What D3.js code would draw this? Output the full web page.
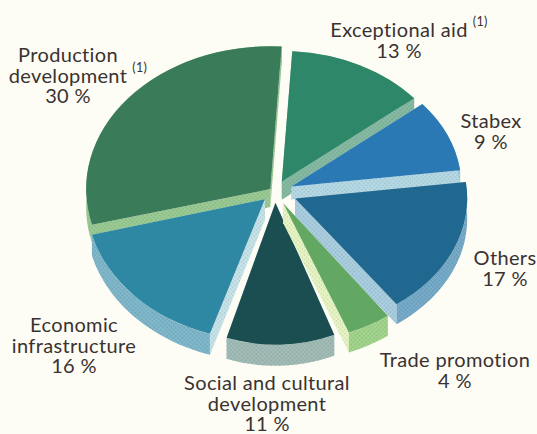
<!DOCTYPE html>
<html>
<head>
<meta charset="utf-8">
<script src="https://cdn.jsdelivr.net/npm/d3@7/dist/d3.min.js"></script>
<style>
html,body{margin:0;padding:0;background:#fdfdf5;overflow:hidden}
text{font-family:Lato,"Noto Sans",sans-serif;fill:#3a3230}
</style>
</head>
<body>
<script>
// Shares of the aid budget, clockwise from the left of the pie
const categories = ["Production development","Exceptional aid","Stabex","Others","Trade promotion","Social and cultural development","Economic infrastructure"];
const shares = [30,13,9,17,4,11,16];

// How each sector is pulled out, sized and extruded
const explodeBy = [6,15,18,22,17,14,14];
const radii = [188,172,170,172,183,187,186];
const widthScale = [0.98,1,1,1,0.97,0.85,0.96];
const depths = [18,18,13,20,20,21,21];

// Sector colours: top face, cut faces, rim
const faceColors = ["#3a7b59","#2f876a","#2a79b4","#20688f","#62a862","#1a4e50","#2e88a4"];
const cutColors = ["#9bcb94","#86bba3","#b5dae6","#aacfe1","#e8f5c4","#c6e4ea","#c6e4ea"];
const rimColors = ["#9bcb94","#86bba3","#9ccde0","#76abc9","#a3d58d","#a2bdb7","#80b8cb"];

// Wrapped label lines and the sectors whose label carries a footnote mark
const labelLines = [
  ["Production","development"],["Exceptional aid"],["Stabex"],["Others"],
  ["Trade promotion"],["Social and cultural","development"],["Economic","infrastructure"]
];
const footnoted = [1,1,0,0,0,0,0];
const labelAnchors = [[68,62],[399,37],[491,128],[505,265],[455,367],[267,390],[74,332]];

const W = 537, H = 434, centre = [275,192], tilt = 0.76, lineStep = 20.5;
const startDeg = 255.5;

const svg = d3.select("body").append("svg").attr("width",W).attr("height",H).style("display","block");
svg.append("rect").attr("width",W).attr("height",H).attr("fill","#fdfdf5");

// A halftone-style screen for the extruded walls
const defs = svg.append("defs");
function screen(id, base){
  const p = defs.append("pattern").attr("id",id).attr("width",3).attr("height",3)
    .attr("patternUnits","userSpaceOnUse").attr("patternTransform","rotate(45)");
  p.append("rect").attr("width",3).attr("height",3).attr("fill",base);
  p.append("rect").attr("width",1.3).attr("height",1.3)
    .attr("fill",d3.color(base).darker(0.45).formatHex());
  return `url(#${id})`;
}

const toRad = Math.PI/180;
const pie = d3.pie().sort(null)
  .startAngle(startDeg*toRad).endAngle((startDeg+360)*toRad);
const arcs = pie(shares).map((a,i)=>({...a,i}));
const line = d3.line();

function sectorLayout(a){
  const mid = (a.startAngle+a.endAngle)/2;
  const [ox,oy] = d3.pointRadial(mid, explodeBy[a.i]);
  return {x:centre[0]+ox, y:centre[1]+oy*tilt, r:radii[a.i], sx:widthScale[a.i], depth:depths[a.i]};
}
// Walls are painted back to front, so nearer sectors overlap the ones behind
const paintOrder = [0,1,2,3,6,5,4];
paintOrder.forEach(i=>{
  const a = arcs[i], s = sectorLayout(a);
  const g = svg.append("g").attr("class","sector").attr("transform",`translate(${s.x},${s.y})`);
  const pt = (ang,dy=0)=>{const [x,y]=d3.pointRadial(ang,s.r); return [x*s.sx,y*tilt+dy];};
  const cutFill = screen("cut"+i,cutColors[i]), rimFill = screen("rim"+i,rimColors[i]);
  [a.startAngle,a.endAngle].forEach(ang=>{
    g.append("path").attr("fill",cutFill)
      .attr("d",line([[0,0],pt(ang),pt(ang,s.depth),[0,s.depth]])+"Z");
  });
  const steps = d3.range(0,41).map(t=>a.startAngle+(a.endAngle-a.startAngle)*t/40);
  const rimPts = steps.map(t=>pt(t)).concat(steps.slice().reverse().map(t=>pt(t,s.depth)));
  g.append("path").attr("fill",rimFill).attr("d",line(rimPts)+"Z");
  g.append("path").attr("fill",faceColors[i])
    .attr("transform",`scale(${s.sx},${tilt})`)
    .attr("d",d3.arc().innerRadius(0).outerRadius(s.r)(a));
});

// Labels: wrapped name, then the share; footnote marks sit after the name's last line
const labels = svg.append("g").attr("font-size",20).style("letter-spacing","0.35px");
categories.forEach((c,i)=>{
  const [x,y] = labelAnchors[i];
  const rows = labelLines[i].concat([shares[i]+" %"]);
  rows.forEach((row,j)=>{
    const rowY = y+j*lineStep;
    const t = labels.append("text").attr("x",x).attr("y",rowY)
      .attr("text-anchor","middle").text(row);
    if(footnoted[i] && j===rows.length-2){
      labels.append("text").attr("font-size",12.5)
        .attr("x",x+t.node().getComputedTextLength()/2+5).attr("y",rowY-11).text("(1)");
    }
  });
});
</script>
</body>
</html>
